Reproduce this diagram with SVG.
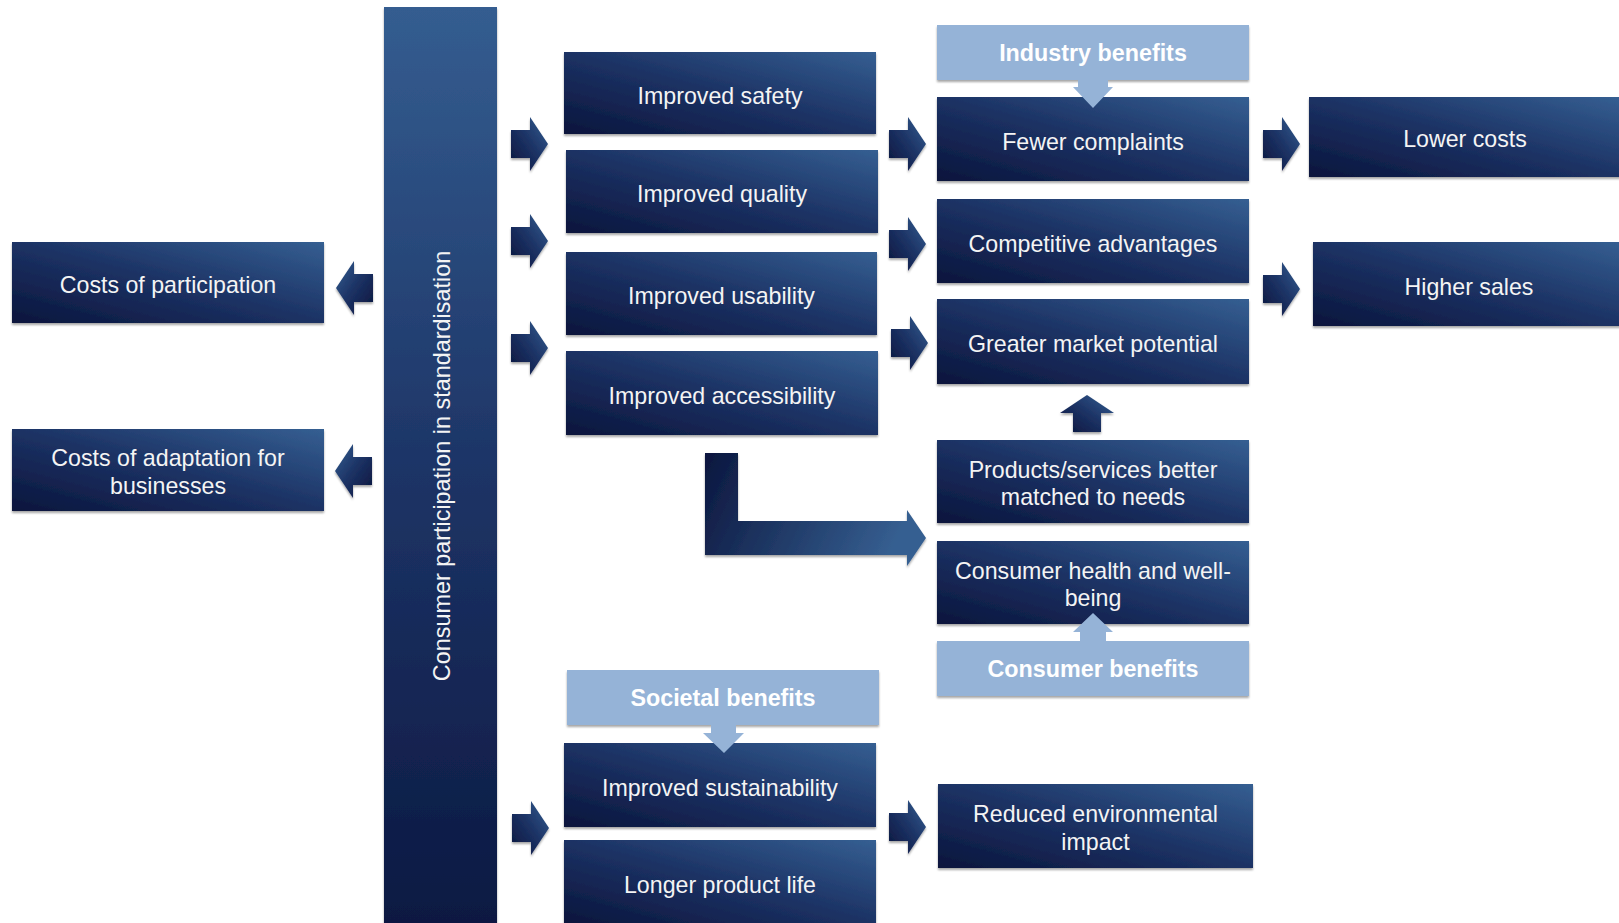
<svg xmlns="http://www.w3.org/2000/svg" xmlns:xlink="http://www.w3.org/1999/xlink" width="1619" height="923" viewBox="0 0 1619 923">
  <defs>
    <!-- dark navy fill, darkest at bottom-left, lightest at top-right -->
    <linearGradient id="navy" x1="0" y1="1" x2="1" y2="0">
      <stop offset="0" stop-color="#0a153c"/>
      <stop offset="0.5" stop-color="#1c3264"/>
      <stop offset="1" stop-color="#355f92"/>
    </linearGradient>
    <linearGradient id="navyBar" x1="0" y1="0" x2="0" y2="1">
      <stop offset="0" stop-color="#345d90"/>
      <stop offset="0.5" stop-color="#1d3466"/>
      <stop offset="1" stop-color="#0b1841"/>
    </linearGradient>
    <linearGradient id="navyBend" x1="0" y1="0" x2="1" y2="0.25">
      <stop offset="0" stop-color="#0b163e"/>
      <stop offset="1" stop-color="#365f91"/>
    </linearGradient>
    <filter id="shadow" x="-5%" y="-10%" width="110%" height="130%">
      <feDropShadow dx="0" dy="2" stdDeviation="1.3" flood-color="#000" flood-opacity="0.35"/>
    </filter>
    <!-- block arrow pointing right, 37 x 54 -->
    <path id="arrowR" d="M0,13 H19 V0 L37,27 L19,54 V41 H0 Z"/>
    <style>
      .box { fill: url(#navy); filter: url(#shadow); }
      .bar { fill: url(#navyBar); filter: url(#shadow); }
      .lbox { fill: #95b3d7; filter: url(#shadow); }
      .arr { fill: url(#navy); filter: url(#shadow); }
      .larr { fill: #95b3d7; }
      .t { font-family: "Liberation Sans", Arial, Helvetica, sans-serif; font-size: 23.2px; fill: #f4f4f4; text-anchor: middle; }
      .tb { font-family: "Liberation Sans", Arial, Helvetica, sans-serif; font-size: 23.3px; font-weight: bold; fill: #ffffff; text-anchor: middle; }
    </style>
  </defs>

  <rect width="1619" height="923" fill="#ffffff"/>

  <!-- central bar -->
  <g id="participation">
    <rect class="bar" x="384" y="7" width="113" height="930"/>
    <text class="t" transform="translate(450,466) rotate(-90)" x="0" y="0" style="font-size:23.4px">Consumer participation in standardisation</text>
  </g>

  <!-- costs -->
  <g id="costs-participation">
    <rect class="box" x="12" y="242" width="312" height="81"/>
    <text class="t" x="168" y="293">Costs of participation</text>
  </g>
  <g id="costs-adaptation">
    <rect class="box" x="12" y="429" width="312" height="82"/>
    <text class="t" x="168" y="466">Costs of adaptation for</text>
    <text class="t" x="168" y="493.5">businesses</text>
  </g>

  <!-- direct improvements -->
  <g id="improved-safety">
    <rect class="box" x="564" y="52" width="312" height="82"/>
    <text class="t" x="720" y="104">Improved safety</text>
  </g>
  <g id="improved-quality">
    <rect class="box" x="566" y="150" width="312" height="83"/>
    <text class="t" x="722" y="202">Improved quality</text>
  </g>
  <g id="improved-usability">
    <rect class="box" x="566" y="252" width="311" height="83"/>
    <text class="t" x="721.5" y="304">Improved usability</text>
  </g>
  <g id="improved-accessibility">
    <rect class="box" x="566" y="351" width="312" height="84"/>
    <text class="t" x="722" y="403.5">Improved accessibility</text>
  </g>

  <!-- industry benefits -->
  <g id="industry-benefits">
    <rect class="lbox" x="937" y="25" width="312" height="55"/>
    <text class="tb" x="1093" y="61">Industry benefits</text>
  </g>
  <g id="fewer-complaints">
    <rect class="box" x="937" y="97" width="312" height="84"/>
    <text class="t" x="1093" y="149.5">Fewer complaints</text>
  </g>
  <g id="competitive-advantages">
    <rect class="box" x="937" y="199" width="312" height="84"/>
    <text class="t" x="1093" y="251.5">Competitive advantages</text>
  </g>
  <g id="market-potential">
    <rect class="box" x="937" y="299" width="312" height="85"/>
    <text class="t" x="1093" y="352">Greater market potential</text>
  </g>

  <!-- consumer benefits -->
  <g id="better-matched">
    <rect class="box" x="937" y="440" width="312" height="83"/>
    <text class="t" x="1093" y="477.5">Products/services better</text>
    <text class="t" x="1093" y="505">matched to needs</text>
  </g>
  <g id="health-wellbeing">
    <rect class="box" x="937" y="541" width="312" height="83"/>
    <text class="t" x="1093" y="578.5">Consumer health and well-</text>
    <text class="t" x="1093" y="606">being</text>
  </g>
  <g id="consumer-benefits">
    <rect class="lbox" x="937" y="641" width="312" height="55"/>
    <text class="tb" x="1093" y="677">Consumer benefits</text>
  </g>

  <!-- societal benefits -->
  <g id="societal-benefits">
    <rect class="lbox" x="567" y="670" width="312" height="55"/>
    <text class="tb" x="723" y="706">Societal benefits</text>
  </g>
  <g id="improved-sustainability">
    <rect class="box" x="564" y="743" width="312" height="84"/>
    <text class="t" x="720" y="795.5">Improved sustainability</text>
  </g>
  <g id="longer-life">
    <rect class="box" x="564" y="840" width="312" height="84"/>
    <text class="t" x="720" y="892.5">Longer product life</text>
  </g>
  <g id="environmental-impact">
    <rect class="box" x="938" y="784" width="315" height="84"/>
    <text class="t" x="1095.5" y="822">Reduced environmental</text>
    <text class="t" x="1095.5" y="849.5">impact</text>
  </g>

  <!-- economic outcomes -->
  <g id="lower-costs">
    <rect class="box" x="1309" y="97" width="312" height="80"/>
    <text class="t" x="1465" y="147">Lower costs</text>
  </g>
  <g id="higher-sales">
    <rect class="box" x="1313" y="242" width="312" height="84"/>
    <text class="t" x="1469" y="294.5">Higher sales</text>
  </g>

  <!-- connectors -->
  <g id="connectors">
    <!-- bar to costs -->
    <use class="arr" xlink:href="#arrowR" href="#arrowR" transform="translate(373,261) scale(-1,1)"/>
    <use class="arr" xlink:href="#arrowR" href="#arrowR" transform="translate(372,444) scale(-1,1)"/>
    <!-- bar to improvements -->
    <use class="arr" xlink:href="#arrowR" href="#arrowR" x="511" y="117"/>
    <use class="arr" xlink:href="#arrowR" href="#arrowR" x="511" y="214"/>
    <use class="arr" xlink:href="#arrowR" href="#arrowR" x="511" y="321"/>
    <use class="arr" xlink:href="#arrowR" href="#arrowR" x="512" y="801"/>
    <!-- improvements to benefits -->
    <use class="arr" xlink:href="#arrowR" href="#arrowR" x="889" y="117"/>
    <use class="arr" xlink:href="#arrowR" href="#arrowR" x="889" y="217"/>
    <use class="arr" xlink:href="#arrowR" href="#arrowR" x="891" y="316"/>
    <use class="arr" xlink:href="#arrowR" href="#arrowR" x="889" y="800"/>
    <!-- benefits to outcomes -->
    <use class="arr" xlink:href="#arrowR" href="#arrowR" x="1263" y="117"/>
    <use class="arr" xlink:href="#arrowR" href="#arrowR" x="1263" y="262"/>
    <!-- improvements to better-matched products -->
    <path d="M705,453 H738 V521 H907 V510 L926,538 L907,566 V555 H705 Z" fill="url(#navyBend)" filter="url(#shadow)"/>
    <!-- better-matched products up to market potential -->
    <path class="arr" d="M1087,395 L1114,413 H1101 V432 H1073 V413 H1060 Z"/>
    <!-- category pointers -->
    <path class="larr" d="M1078,78 H1108 V87 H1113 L1093,108 L1073,87 H1078 Z"/>
    <path class="larr" d="M1080,643 H1106 V632 H1113 L1093,613 L1073,632 H1080 Z"/>
    <path class="larr" d="M711,723 H736 V733 H744 L724,753 L703,733 H711 Z"/>
  </g>
</svg>
